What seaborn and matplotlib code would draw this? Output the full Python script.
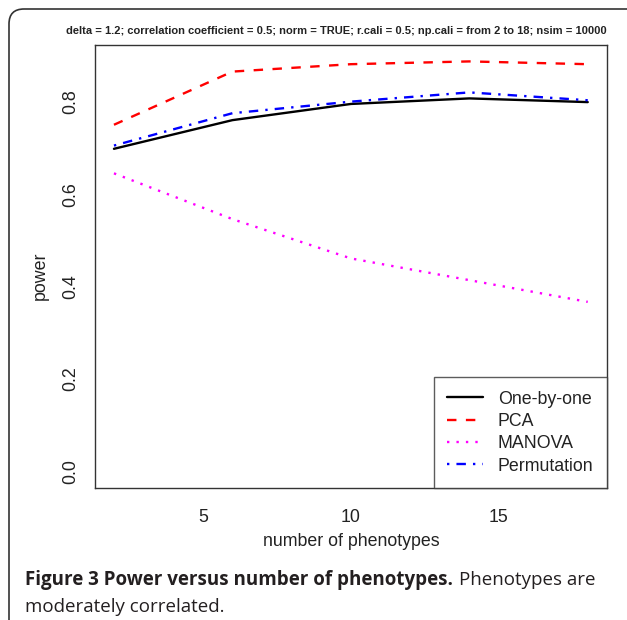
import matplotlib
matplotlib.use("Agg")
import matplotlib.pyplot as plt
import matplotlib.transforms as mtransforms
from matplotlib.patches import FancyBboxPatch
import seaborn as sns
import pandas as pd

# Data
n_pheno = [2, 6, 10, 14, 18]
one_by_one = [0.698, 0.760, 0.795, 0.807, 0.799]
pca = [0.750, 0.865, 0.881, 0.887, 0.881]
manova = [0.645, 0.546, 0.461, 0.414, 0.367]
permutation = [0.705, 0.775, 0.800, 0.820, 0.803]

methods = ["One-by-one", "PCA", "MANOVA", "Permutation"]
colors = ["black", "red", "magenta", "blue"]
styles = ["-", (0, (4, 4)), (0, (1, 3)), (0, (1, 3, 4, 3))]
y_ticks = [0.0, 0.2, 0.4, 0.6, 0.8]
x_ticks = [5, 10, 15]

title_text = ("delta = 1.2; correlation coefficient = 0.5; norm = TRUE; "
              "r.cali = 0.5; np.cali = from 2 to 18; nsim = 10000")

df = pd.DataFrame({"n": n_pheno * 4,
                   "power": one_by_one + pca + manova + permutation,
                   "method": sum([[m] * len(n_pheno) for m in methods], [])})

sns.set_style("white")
plt.rcParams["font.family"] = ["Liberation Sans", "DejaVu Sans"]
plt.rcParams["lines.scale_dashes"] = True

W, H = 627, 620
fig = plt.figure(figsize=(W / 100, H / 100), dpi=100)
ax = fig.add_axes([95 / W, 1 - 488 / H, (606.7 - 95) / W, (488 - 45) / H])

for m, c, ls in zip(methods, colors, styles):
    sub = df[df["method"] == m]
    sns.lineplot(data=sub, x="n", y="power", ax=ax, color=c, linestyle=ls,
                 linewidth=1.7, label=m)

ax.set_xlim(1.36, 18.64)
ax.set_ylim(-0.0355, 0.9225)
ax.set_xticks(x_ticks)
ax.set_xticklabels([str(t) for t in x_ticks])
ax.set_yticks(y_ticks)
ax.set_yticklabels([f"{t:.1f}" for t in y_ticks], rotation=90, va="center")
ax.tick_params(axis="both", direction="out", length=7.6, width=0.9,
               color="#333333", labelsize=12.8, labelcolor="#222222")
ax.tick_params(axis="x", pad=7.5)
ax.tick_params(axis="y", pad=4)
for sp in ax.spines.values():
    sp.set_color("#333333")
    sp.set_linewidth(1.0)

ax.set_xlabel("number of phenotypes", fontsize=12.8, color="#222222", labelpad=5)
ax.set_ylabel("power", fontsize=12.8, color="#222222")
ax.yaxis.set_label_coords(-0.09, 0.48)

leg = ax.legend(loc="lower right", borderaxespad=0, fancybox=False,
                frameon=True, edgecolor="#333333", fontsize=12.8,
                handlelength=2.0, handletextpad=0.85, labelspacing=0.3,
                borderpad=0.75)
leg.get_frame().set_linewidth(1.0)
for t in leg.get_texts():
    t.set_color("#222222")

fig.text(336 / W, 1 - 31 / H, title_text, ha="center", va="center",
         fontsize=8.0, fontweight="bold", color="#222222")

# rounded frame around the whole figure
frame = FancyBboxPatch((9, -30), 650, H - 9 + 30,
                       boxstyle="round,pad=0,rounding_size=15",
                       transform=mtransforms.IdentityTransform(),
                       facecolor="none", edgecolor="#333333", linewidth=1.2)
fig.patches.append(frame)

# caption
cap_font = ["Open Sans", "DejaVu Sans"]
bold_part = fig.text(25 / W, 1 - 585 / H, "Figure 3 Power versus number of phenotypes.",
                     ha="left", va="baseline", fontsize=13.5, fontweight="bold",
                     family=cap_font, color="#231f20")
fig.canvas.draw()
bb = bold_part.get_window_extent()
fig.text((bb.x1 + 6) / W, 1 - 585 / H, "Phenotypes are", ha="left", va="baseline",
         fontsize=13.5, family=cap_font, color="#231f20")
fig.text(25 / W, 1 - 611.7 / H, "moderately correlated.", ha="left", va="baseline",
         fontsize=13.5, family=cap_font, color="#231f20")

fig.savefig("out.png", dpi=100)
